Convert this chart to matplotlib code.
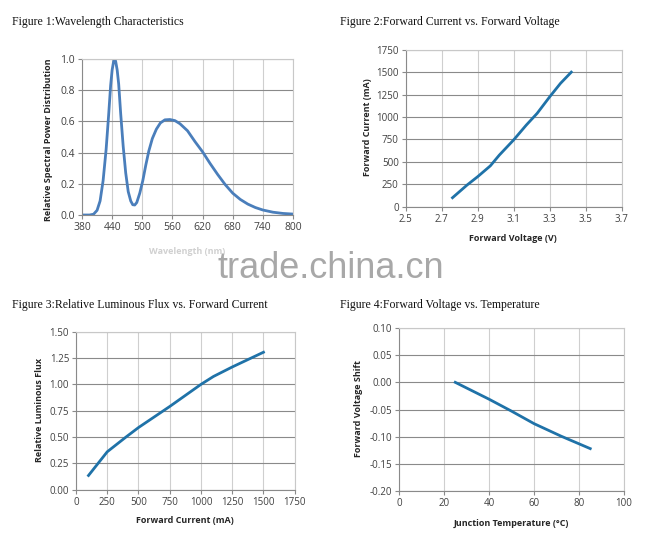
import matplotlib
matplotlib.use("Agg")
import matplotlib.pyplot as plt

# ---- data ----
wl = [380, 395, 403, 410, 416, 422, 428, 433, 437, 440, 443, 445, 447, 450, 453, 457, 462, 467,
      472, 477, 481, 485, 489, 495, 501, 507, 513, 520, 528, 536, 545, 555, 565, 575, 590, 605,
      620, 635, 650, 665, 680, 695, 710, 725, 740, 760, 780, 800]
spd = [0.0, 0.0, 0.005, 0.03, 0.09, 0.22, 0.42, 0.64, 0.83, 0.93, 0.985, 1.0, 0.985, 0.93,
       0.84, 0.65, 0.44, 0.27, 0.15, 0.09, 0.066, 0.064, 0.08, 0.14, 0.22, 0.32, 0.41, 0.49,
       0.55, 0.59, 0.61, 0.612, 0.605, 0.585, 0.54, 0.47, 0.405, 0.33, 0.26, 0.195, 0.14, 0.10,
       0.07, 0.048, 0.032, 0.018, 0.01, 0.006]

vf = [2.76, 2.84, 2.90, 2.97, 3.02, 3.10, 3.17, 3.23, 3.30, 3.36, 3.42]
if_ = [100, 240, 335, 455, 575, 745, 910, 1040, 1225, 1375, 1500]

cur3 = [100, 250, 400, 500, 750, 1000, 1100, 1250, 1500]
flux = [0.135, 0.36, 0.50, 0.59, 0.79, 1.0, 1.075, 1.165, 1.305]

tj = [25, 40, 50, 60, 72, 85]
dvf = [0.0, -0.031, -0.053, -0.076, -0.099, -0.122]

titles = ["Figure 1:Wavelength Characteristics",
          "Figure 2:Forward Current vs. Forward Voltage",
          "Figure 3:Relative Luminous Flux vs. Forward Current",
          "Figure 4:Forward Voltage vs. Temperature"]

x1_ticks = [380, 440, 500, 560, 620, 680, 740, 800]
y1_ticks = [0.0, 0.2, 0.4, 0.6, 0.8, 1.0]
x2_ticks = [2.5, 2.7, 2.9, 3.1, 3.3, 3.5, 3.7]
y2_ticks = [0, 250, 500, 750, 1000, 1250, 1500, 1750]
x3_ticks = [0, 250, 500, 750, 1000, 1250, 1500, 1750]
y3_ticks = [0.0, 0.25, 0.5, 0.75, 1.0, 1.25, 1.5]
x4_ticks = [0, 20, 40, 60, 80, 100]
y4_ticks = [-0.20, -0.15, -0.10, -0.05, 0.0, 0.05, 0.10]

W, H = 662, 554
fig = plt.figure(figsize=(W / 100, H / 100), dpi=100)
fig.patch.set_facecolor("white")

def mkax(l, r, t, b):
    return fig.add_axes([l / W, 1 - b / H, (r - l) / W, (b - t) / H])

SANS = ["Open Sans", "DejaVu Sans"]
TICKC = "#404040"

def style(ax, xt, yt, xfmt, yfmt, fs=7):
    ax.set_xticks(xt)
    ax.set_yticks(yt)
    ax.set_xticklabels([xfmt(v) for v in xt], fontsize=fs, family=SANS, color=TICKC)
    ax.set_yticklabels([yfmt(v) for v in yt], fontsize=fs, family=SANS, color=TICKC)
    ax.set_xlim(xt[0], xt[-1])
    ax.set_ylim(yt[0], yt[-1])
    ax.grid(axis="y", color="#8a8a8a", lw=0.8)
    ax.grid(axis="x", color="#cfcfcf", lw=0.8)
    ax.set_axisbelow(True)
    for s in ("top", "right"):
        ax.spines[s].set_color("#c8c8c8")
        ax.spines[s].set_linewidth(0.8)
    for s in ("left", "bottom"):
        ax.spines[s].set_color("#8a8a8a")
        ax.spines[s].set_linewidth(0.8)
    ax.tick_params(direction="out", length=3, width=0.8, color="#8a8a8a", pad=2)

def labels(ax, xl, yl, xpos, ypos, fs=6.5, xcolor="#262626"):
    ax.text(xpos[0], xpos[1], xl, transform=ax.transAxes, ha="center", va="center",
            fontsize=fs, fontweight="bold", family=SANS, color=xcolor)
    ax.text(ypos[0], ypos[1], yl, transform=ax.transAxes, ha="center", va="center",
            rotation=90, fontsize=fs, fontweight="bold", family=SANS, color="#262626")

# Figure 1
ax1 = mkax(82, 293, 59, 215)
ax1.plot(wl, spd, color="#4a7ebb", lw=2.0, solid_joinstyle="round")
style(ax1, x1_ticks, y1_ticks, lambda v: f"{v:d}", lambda v: f"{v:.1f}", fs=7.5)
labels(ax1, "Wavelength (nm)", "Relative Spectral Power Distribution",
       (0.50, -0.237), (-0.16, 0.48), xcolor="#d0d0d0")

# Figure 2
ax2 = mkax(405.7, 621.7, 49.7, 206.7)
ax2.plot(vf, if_, color="#1f72a8", lw=2.0, solid_joinstyle="round")
style(ax2, x2_ticks, y2_ticks, lambda v: f"{v:.1f}", lambda v: f"{v:d}")
labels(ax2, "Forward Voltage (V)", "Forward Current (mA)", (0.497, -0.2), (-0.179, 0.51))

# Figure 3
ax3 = mkax(76, 294.7, 331.7, 489.7)
ax3.plot(cur3, flux, color="#1f72a8", lw=2.0, solid_joinstyle="round")
style(ax3, x3_ticks, y3_ticks, lambda v: f"{v:d}", lambda v: f"{v:.2f}")
labels(ax3, "Forward Current (mA)", "Relative Luminous Flux", (0.498, -0.198), (-0.165, 0.504))

# Figure 4
ax4 = mkax(399, 624, 328, 491)
ax4.plot(tj, dvf, color="#1f72a8", lw=2.0, solid_joinstyle="round")
style(ax4, x4_ticks, y4_ticks, lambda v: f"{v:d}", lambda v: f"{v:.2f}")
labels(ax4, "Junction Temperature (°C)", "Forward Voltage Shift", (0.498, -0.2), (-0.178, 0.505))

# Titles
tpos = [(12, 25), (340, 25), (12, 308), (340, 308)]
for (x, y), t in zip(tpos, titles):
    fig.text(x / W, 1 - y / H, t, ha="left", va="baseline", fontsize=8.5,
             family=["Liberation Serif", "DejaVu Serif"], color="#111111")

# watermark
fig.text(331 / W, 1 - 278 / H, "trade.china.cn", ha="center", va="baseline",
         fontsize=26, family=["Liberation Sans", "DejaVu Sans"], color="#a8a8a8")

fig.savefig("out.png", dpi=100, facecolor="white")
